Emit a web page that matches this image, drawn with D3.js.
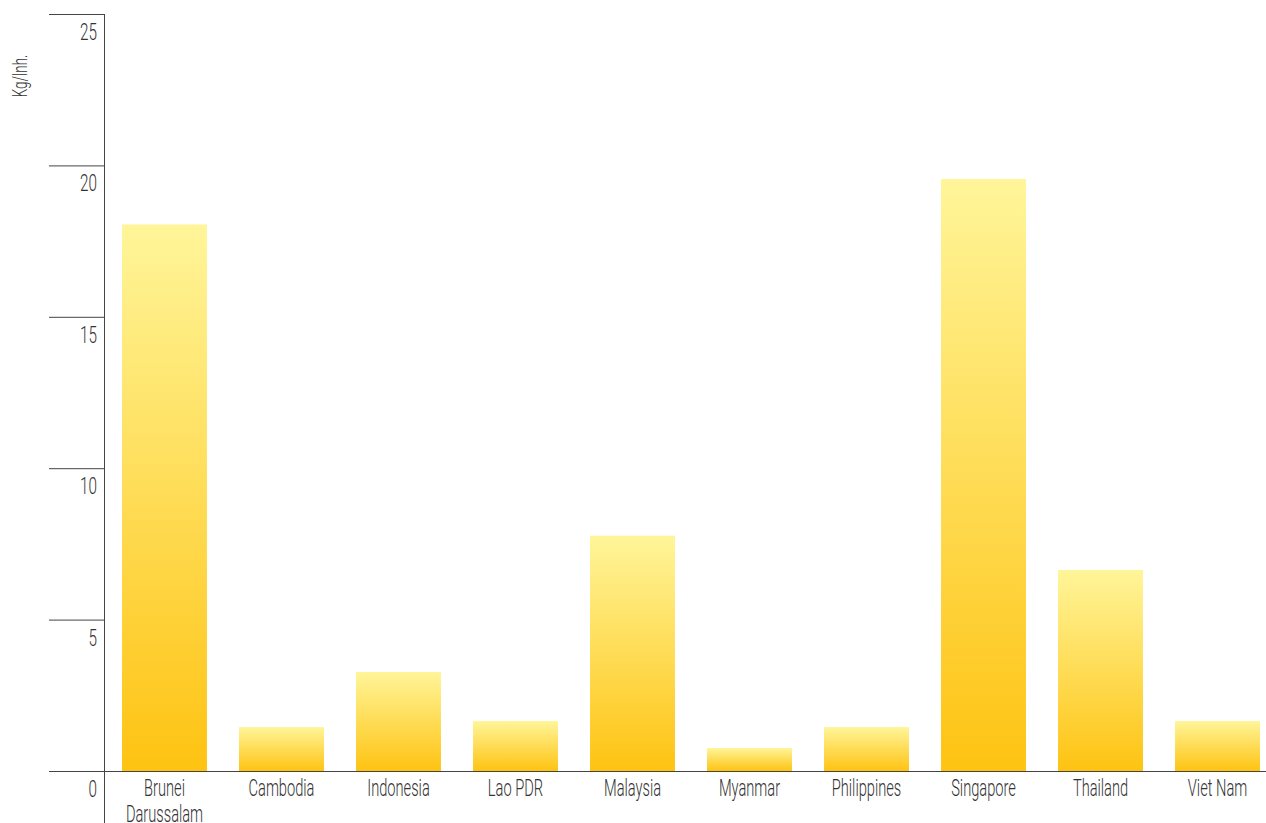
<!DOCTYPE html>
<meta charset="utf-8">
<title>Kg/Inh.</title>
<script src="https://d3js.org/d3.v7.min.js"></script>
<style>
  body { margin: 0; background: #fff; }
  text { font-family: Roboto, "DejaVu Sans", sans-serif; font-weight: 300; fill: #333; }
</style>
<body>
<div id="chart"></div>
<script>
// data
var countries = ["Brunei Darussalam", "Cambodia", "Indonesia", "Lao PDR", "Malaysia",
                 "Myanmar", "Philippines", "Singapore", "Thailand", "Viet Nam"];
var values = [18.05, 1.45, 3.27, 1.65, 7.77, 0.76, 1.45, 19.55, 6.64, 1.65];
var yTicks = [0, 5, 10, 15, 20, 25];
var yTitle = "Kg/Inh.";

var W = 1266, H = 823;
var svg = d3.select("#chart").append("svg")
    .attr("width", W)
    .attr("height", H);

var x = d3.scaleBand()
    .domain(countries)
    .range([104, 1278])
    .paddingInner(0.274)
    .paddingOuter(0.154);

var y = d3.scaleLinear()
    .domain([0, 25])
    .range([771, 14]);

// the original uses a narrow font, so squeeze the text horizontally
var probe = svg.append("text").attr("font-size", 23).text("Cambodia");
var sx = 66 / probe.node().getComputedTextLength();
probe.remove();

function narrow(sel, px, py) {
  sel.attr("transform", "translate(" + px + "," + py + ") scale(" + sx + ",1)");
}

// gradient for the bars
var grad = svg.append("defs").append("linearGradient")
    .attr("id", "barGrad")
    .attr("x1", 0).attr("y1", 0).attr("x2", 0).attr("y2", 1);
grad.append("stop").attr("offset", "0%").attr("stop-color", "#fff599");
grad.append("stop").attr("offset", "100%").attr("stop-color", "#fec312");

// tick lines on the left
svg.append("g")
  .selectAll("line")
  .data(yTicks)
  .join("line")
    .attr("x1", 49)
    .attr("x2", d => d === 0 ? W : 104)
    .attr("y1", d => y(d) + 0.5)
    .attr("y2", d => y(d) + 0.5)
    .attr("stroke", "#444")
    .attr("stroke-width", 1);

svg.append("g")
  .selectAll("text")
  .data(yTicks)
  .join("text")
    .attr("text-anchor", "end")
    .attr("font-size", 24)
    .text(d => d)
    .each(function(d) { narrow(d3.select(this), 97, y(d) + 26); });

// bars
svg.append("g")
  .selectAll("rect")
  .data(values)
  .join("rect")
    .attr("x", (d, i) => x(countries[i]))
    .attr("y", d => y(d))
    .attr("width", x.bandwidth())
    .attr("height", d => y(0) - y(d))
    .attr("fill", "url(#barGrad)");

// y axis line
svg.append("line")
    .attr("x1", 104.5).attr("x2", 104.5)
    .attr("y1", 14).attr("y2", H)
    .attr("stroke", "#444");

// category labels
svg.append("g")
  .selectAll("text")
  .data(countries)
  .join("text")
    .attr("text-anchor", "middle")
    .attr("font-size", 23)
    .each(function(d) {
      var t = d3.select(this);
      narrow(t, x(d) + x.bandwidth() / 2, 796);
      var parts = d === "Brunei Darussalam" ? ["Brunei", "Darussalam"] : [d];
      parts.forEach(function(p, k) {
        t.append("tspan")
          .attr("x", 0)
          .attr("dy", k === 0 ? 0 : 26)
          .text(p);
      });
    });

svg.append("text")
    .attr("transform", "translate(27,76) rotate(-90) scale(" + sx + ",1)")
    .attr("text-anchor", "middle")
    .attr("font-size", 21)
    .text(yTitle);
</script>
</body>
